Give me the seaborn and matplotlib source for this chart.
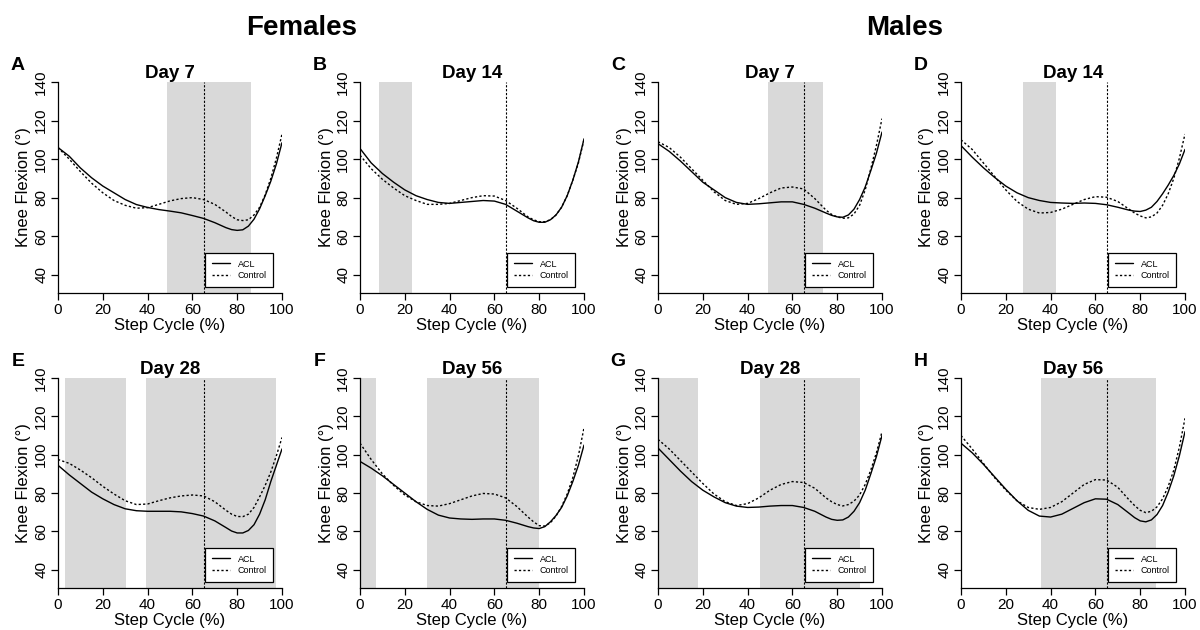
import matplotlib
matplotlib.use("Agg")
import matplotlib.pyplot as plt
import pandas as pd
import seaborn as sns

# Step cycle positions (% of stride) at which knee angles are tabulated
step = [0, 5, 10, 15, 20, 25, 30, 35, 40, 45, 50, 55, 60, 65, 70, 75,
        77.5, 80, 82.5, 85, 87.5, 90, 92.5, 95, 97.5, 100]

# Knee flexion (deg), females
acl_f7 = [106, 101.5, 95.4, 90.3, 86, 82.5, 79, 76.4, 74.9, 73.8, 73, 72.1, 70.7, 69.2, 67, 64.4, 63.4, 63, 63.3, 65.2, 68.8, 74.2, 81, 88.5, 97.5, 108.5]
ctl_f7 = [106, 100, 93.5, 87.5, 82.5, 78.5, 76, 74.5, 74.8, 76.5, 78.3, 79.5, 80, 79, 76.5, 72.5, 70.2, 68.5, 68.1, 68.5, 71, 75, 81.5, 90, 100.5, 113]
acl_f14 = [105.5, 98, 92.5, 88, 84, 81, 79, 77.5, 77, 77.5, 78, 78.5, 78.2, 76.5, 73, 69.5, 68, 67.2, 67.2, 68.5, 71, 75, 81, 89, 98.5, 110.5]
ctl_f14 = [102, 95, 89.5, 85, 81, 78.5, 76.5, 76.5, 77, 78.5, 80, 81, 80.8, 78.5, 74.5, 70, 68.5, 67.5, 67.5, 68.5, 71, 75, 81, 89, 98, 110]
acl_f28 = [94.5, 89.5, 85, 80.5, 77, 74, 71.8, 70.8, 70.5, 70.5, 70.5, 70.2, 69.3, 68, 65.5, 62, 60.2, 59.2, 59.2, 60.5, 63.5, 69, 76.5, 86, 94.5, 103]
ctl_f28 = [97.5, 95.5, 92, 88, 83.5, 79.5, 76, 74, 74.3, 76, 77.5, 78.5, 79, 78.5, 75.5, 71, 69, 67.8, 67.7, 69, 72.5, 78, 84, 91, 99.5, 109]
acl_f56 = [96.5, 93, 89, 84.5, 80, 75.5, 71.5, 68.5, 67, 66.5, 66.3, 66.5, 66.5, 65.8, 64.3, 62.5, 61.8, 61.5, 62.5, 65, 68.3, 72.5, 78.5, 86, 94.5, 105]
ctl_f56 = [106, 97.5, 90, 84, 79, 75.5, 73.5, 73.2, 74.5, 76.5, 78.5, 79.8, 79.5, 77.5, 73, 67.5, 65, 63, 62.8, 64.5, 68, 73, 79.5, 88, 99.5, 114]

# Knee flexion (deg), males
acl_m7 = [108, 104, 99, 93.5, 88, 84, 80, 77.5, 76.5, 76.8, 77.3, 77.8, 77.8, 76.5, 74.5, 72, 70.8, 70, 69.8, 71, 74, 79, 85.5, 94, 103, 114]
ctl_m7 = [109, 106, 101, 95, 89, 83, 78.5, 76.5, 77, 79.5, 82.5, 85, 85.5, 84.5, 79.5, 73.5, 71.3, 70, 69.3, 69.5, 71.5, 76, 84, 95, 107, 121]
acl_m14 = [107, 101, 95.5, 90.5, 86, 82.5, 80, 78.5, 77.5, 77.2, 77, 77.2, 77, 76.3, 75, 73.5, 73, 72.8, 73.5, 75, 78, 82, 86.5, 91.5, 97.5, 105]
ctl_m14 = [110, 105, 98, 91, 84, 78, 74, 72, 72.3, 74, 76.5, 79, 80.5, 80.2, 78, 74, 72, 70.5, 69.5, 70, 72, 76, 82, 90, 100.5, 113]
acl_m28 = [103.5, 97.5, 91.5, 86, 81.5, 78, 75, 73.2, 72.5, 72.7, 73.2, 73.5, 73.5, 72.5, 70.5, 67.5, 66.3, 65.8, 66, 67.5, 70.5, 75, 81.5, 90, 99, 110]
ctl_m28 = [108, 103, 97, 91, 85, 79.5, 75.5, 73.5, 74.5, 77.5, 81.5, 84.5, 86, 85.5, 82.5, 77.5, 75.5, 74, 73.3, 74, 75.8, 79, 84.5, 92, 101, 112]
acl_m56 = [106, 101, 95, 88.5, 82, 76, 71, 68, 67.5, 69, 72, 75, 77, 76.8, 74, 69.5, 67.2, 65.5, 65, 66, 68.8, 73.5, 80.5, 89, 99.5, 112]
ctl_m56 = [110, 103, 95.5, 88, 81.5, 76, 72.5, 71.5, 72.5, 75.5, 80, 84.5, 87, 86.8, 83, 76.5, 73.5, 71, 69.8, 70.5, 72.8, 77, 83.5, 92, 104, 119]

# Step-cycle ranges where ACL and Control differ (shaded)
sig_f7 = [(48.5, 86)]
sig_f14 = [(8.3, 23.3)]
sig_f28 = [(3, 30.5), (39.5, 97.2)]
sig_f56 = [(0, 7), (30, 80)]
sig_m7 = [(49.3, 73.8)]
sig_m14 = [(27.6, 42.6)]
sig_m28 = [(0, 18), (45.5, 90)]
sig_m56 = [(35.6, 87)]

letters = ["A", "B", "C", "D", "E", "F", "G", "H"]
titles = ["Day 7", "Day 14", "Day 7", "Day 14", "Day 28", "Day 56", "Day 28", "Day 56"]
group_names = ["ACL", "Control"]
stance_end = 65

panels = [
    (acl_f7, ctl_f7, sig_f7), (acl_f14, ctl_f14, sig_f14),
    (acl_m7, ctl_m7, sig_m7), (acl_m14, ctl_m14, sig_m14),
    (acl_f28, ctl_f28, sig_f28), (acl_f56, ctl_f56, sig_f56),
    (acl_m28, ctl_m28, sig_m28), (acl_m56, ctl_m56, sig_m56),
]

sns.set_style("ticks")
plt.rcParams["font.family"] = ["Liberation Sans", "DejaVu Sans"]
plt.rcParams.update({
    "axes.linewidth": 0.9,
    "text.color": "black",
    "axes.labelcolor": "black",
    "axes.edgecolor": "black",
    "xtick.color": "black",
    "ytick.color": "black",
})

W, H = 1200, 630
fig = plt.figure(figsize=(12, 6.3), dpi=100)

lefts = [58, 360, 658, 961]
row_tops = [82, 378]
row_bottoms = [293, 588]
ax_w = 224

for i, (acl, ctl, spans) in enumerate(panels):
    r, c = divmod(i, 4)
    x0 = lefts[c]
    ax = fig.add_axes([x0 / W, 1 - row_bottoms[r] / H, ax_w / W,
                       (row_bottoms[r] - row_tops[r]) / H])
    for a, b in spans:
        ax.axvspan(a, b, color="#d9d9d9", lw=0, zorder=0)
    ax.axvline(stance_end, color="black", lw=0.8, ls=(0, (2, 1.5)), zorder=1)

    df = pd.DataFrame({
        "step": step + step,
        "angle": acl + ctl,
        "group": [group_names[0]] * len(step) + [group_names[1]] * len(step),
    })
    sns.lineplot(data=df, x="step", y="angle", style="group",
                 dashes={"ACL": "", "Control": (1.6, 1.6)},
                 color="black", lw=1.0, ax=ax, zorder=3)

    ax.set_xlim(0, 100)
    ax.set_ylim(30.5, 140)
    ax.set_xticks(range(0, 101, 20))
    ax.set_yticks(range(40, 141, 20))
    ax.tick_params(axis="both", direction="out", length=5, width=0.9,
                   labelsize=11, colors="black", pad=2)
    for lab in ax.get_yticklabels():
        lab.set_rotation(90)
        lab.set_va("center")
    sns.despine(ax=ax)

    ax.set_xlabel("Step Cycle (%)", fontsize=12, labelpad=1)
    ax.set_ylabel("Knee Flexion (°)", fontsize=12, labelpad=2)
    ax.set_title(titles[i], fontsize=13.5, fontweight="bold", pad=3,
                 color="black")

    handles, labels = ax.get_legend_handles_labels()
    leg = ax.legend(handles, labels, loc="lower right",
                    bbox_to_anchor=(0.962, 0.028), borderaxespad=0,
                    fontsize=6.5, frameon=True, fancybox=False,
                    edgecolor="black", framealpha=1, handlelength=2.0,
                    borderpad=0.75, labelspacing=0.3, handletextpad=0.9)
    leg.get_frame().set_linewidth(0.9)

    fig.text((x0 - 40) / W, 1 - (row_tops[r] - 16) / H, letters[i],
             fontsize=14, fontweight="bold", ha="center", va="center")

fig.text(302 / W, 1 - 28 / H, "Females", fontsize=20, fontweight="bold",
         ha="center", va="center")
fig.text(905 / W, 1 - 28 / H, "Males", fontsize=20, fontweight="bold",
         ha="center", va="center")

fig.savefig("out.png", dpi=100, facecolor="white")
